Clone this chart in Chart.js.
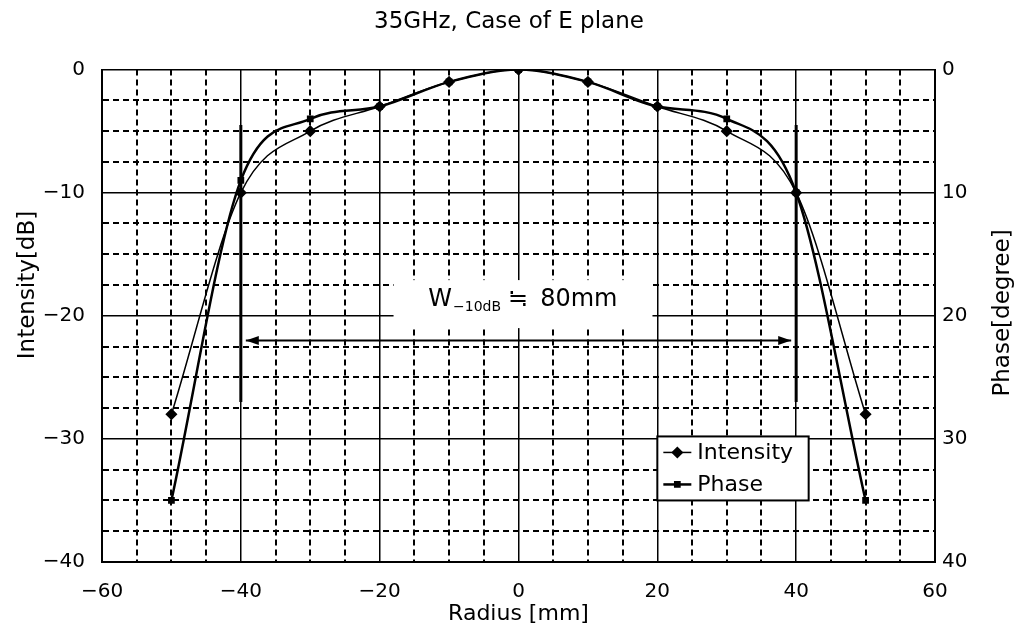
<!DOCTYPE html>
<html>
<head>
<meta charset="utf-8">
<script src="https://cdn.jsdelivr.net/npm/chart.js@4.4.1/dist/chart.umd.min.js"></script>
<style>
  html, body { margin: 0; padding: 0; background: #fff; }
</style>
</head>
<body>
<canvas id="myChart" width="1018" height="632"></canvas>
<script>
const radius = [-50, -40, -30, -20, -10, 0, 10, 20, 30, 40, 50];
const intensity = [-28, -10, -5, -3, -1, 0, -1, -3, -5, -10, -28];
const phase = [35, 9, 4, 3, 1, 0, 1, 3, 4, 10, 35];

const xTickLabels = [-60, -40, -20, 0, 20, 40, 60];
const yLeftTickLabels = [0, -10, -20, -30, -40];
const yRightTickLabels = [0, 10, 20, 30, 40];

// -10 dB width annotation
const widthEdges = [-40, 40];
const markerRange = [-4.5, -27];
const arrowLevel = -22;

const FONT = "'DejaVu Sans', sans-serif";
const minus = (v) => String(v).replace("-", "\u2212");

const isMajor = (ctx, step) => ctx.tick && Math.abs(ctx.tick.value % step) < 1e-9;

const overlay = {
  id: "overlay",
  beforeDatasetsDraw(chart) {
    const { ctx, scales } = chart;
    const x = scales.x, y = scales.y;
    ctx.save();

    // white box behind the width label
    const bx0 = x.getPixelForValue(-18), bx1 = x.getPixelForValue(19.3);
    const by0 = y.getPixelForValue(-17.1), by1 = y.getPixelForValue(-21);
    ctx.fillStyle = "#fff";
    ctx.fillRect(bx0, by0, bx1 - bx0, by1 - by0);

    // vertical markers at the -10dB points
    ctx.strokeStyle = "#000";
    ctx.fillStyle = "#000";
    ctx.lineWidth = 3;
    widthEdges.forEach((v) => {
      const px = x.getPixelForValue(v);
      ctx.beginPath();
      ctx.moveTo(px, y.getPixelForValue(markerRange[0]));
      ctx.lineTo(px, y.getPixelForValue(markerRange[1]));
      ctx.stroke();
    });

    // double arrow
    const ay = y.getPixelForValue(arrowLevel);
    const ax0 = x.getPixelForValue(widthEdges[0]) + 5;
    const ax1 = x.getPixelForValue(widthEdges[1]) - 5;
    ctx.lineWidth = 2;
    ctx.beginPath();
    ctx.moveTo(ax0, ay);
    ctx.lineTo(ax1, ay);
    ctx.stroke();
    ctx.beginPath();
    ctx.moveTo(ax0, ay);
    ctx.lineTo(ax0 + 13, ay - 4.5);
    ctx.lineTo(ax0 + 13, ay + 4.5);
    ctx.closePath();
    ctx.fill();
    ctx.beginPath();
    ctx.moveTo(ax1, ay);
    ctx.lineTo(ax1 - 13, ay - 4.5);
    ctx.lineTo(ax1 - 13, ay + 4.5);
    ctx.closePath();
    ctx.fill();

    // label  W-10dB ≒ 80mm
    let tx = x.getPixelForValue(-13.0);
    const ty = y.getPixelForValue(-19.2);
    ctx.textBaseline = "alphabetic";
    ctx.textAlign = "left";
    ctx.font = "24px " + FONT;
    ctx.fillText("W", tx, ty);
    tx += ctx.measureText("W").width + 1;
    ctx.font = "14px " + FONT;
    ctx.fillText("\u221210dB", tx, ty + 5);
    tx += ctx.measureText("\u221210dB").width + 7;
    ctx.font = "24px " + FONT;
    ctx.fillText("\u2252", tx, ty);
    tx += ctx.measureText("\u2252").width + 12;
    ctx.fillText("80mm", tx, ty);

    ctx.restore();
  },
  afterDraw(chart) {
    const { ctx, scales } = chart;
    const x = scales.x, y = scales.y;
    ctx.save();

    // legend box inside the plot
    const lx0 = x.getPixelForValue(20), lx1 = x.getPixelForValue(41.8);
    const ly0 = y.getPixelForValue(-29.8), ly1 = y.getPixelForValue(-35);
    ctx.fillStyle = "#fff";
    ctx.fillRect(lx0, ly0, lx1 - lx0, ly1 - ly0);
    ctx.strokeStyle = "#000";
    ctx.lineWidth = 2;
    ctx.strokeRect(lx0, ly0, lx1 - lx0, ly1 - ly0);

    const rowH = (ly1 - ly0) / 2;
    chart.data.datasets.forEach((ds, i) => {
      const cy = ly0 + rowH * (i + 0.5);
      ctx.strokeStyle = "#000";
      ctx.fillStyle = "#000";
      ctx.lineWidth = ds.borderWidth;
      ctx.beginPath();
      ctx.moveTo(lx0 + 6, cy);
      ctx.lineTo(lx0 + 34, cy);
      ctx.stroke();
      Chart.helpers.drawPoint(ctx, { pointStyle: ds.pointStyle, radius: ds.pointRadius, borderWidth: 1, rotation: 0 }, lx0 + 20, cy);
      ctx.font = "22px " + FONT;
      ctx.textBaseline = "middle";
      ctx.textAlign = "left";
      ctx.fillText(ds.label, lx0 + 40, cy + 1);
    });

    // axis titles, both reading bottom to top
    ctx.fillStyle = "#000";
    ctx.font = "23px " + FONT;
    ctx.textAlign = "center";
    ctx.textBaseline = "middle";
    ctx.translate(28, 285);
    ctx.rotate(-Math.PI / 2);
    ctx.fillText("Intensity[dB]", 0, 0);
    ctx.setTransform(1, 0, 0, 1, 0, 0);
    ctx.translate(1003, 313);
    ctx.rotate(-Math.PI / 2);
    ctx.fillText("Phase[degree]", 0, 0);

    ctx.restore();
  },
};

const ctx = document.getElementById("myChart").getContext("2d");

new Chart(ctx, {
  type: "line",
  data: {
    datasets: [
      {
        label: "Intensity",
        data: radius.map((r, i) => ({ x: r, y: intensity[i] })),
        yAxisID: "y",
        borderColor: "#000",
        backgroundColor: "#000",
        borderWidth: 1.5,
        pointStyle: "rectRot",
        pointRadius: 5,
        cubicInterpolationMode: "monotone",
      },
      {
        label: "Phase",
        data: radius.map((r, i) => ({ x: r, y: phase[i] })),
        yAxisID: "y1",
        borderColor: "#000",
        backgroundColor: "#000",
        borderWidth: 2.5,
        pointStyle: "rect",
        pointRadius: 3,
        cubicInterpolationMode: "monotone",
      },
    ],
  },
  options: {
    responsive: false,
    animation: false,
    layout: { padding: 0 },
    scales: {
      x: {
        type: "linear",
        min: -60,
        max: 60,
        afterFit: (s) => { s.height = 70; },
        ticks: {
          stepSize: 5,
          autoSkip: false,
          maxRotation: 0,
          padding: 18,
          color: "#000",
          font: { family: FONT, size: 20 },
          callback: (v) => (xTickLabels.includes(v) ? minus(v) : ""),
        },
        grid: {
          color: "#000",
          drawTicks: false,
          lineWidth: (c) => (isMajor(c, 20) ? 1.5 : 2),
        },
        border: {
          color: "#000",
          width: 2,
          dash: (c) => (c.tick && !isMajor(c, 20) ? [6, 4] : []),
        },
        title: {
          display: true,
          text: "Radius [mm]",
          color: "#000",
          font: { family: FONT, size: 22 },
          padding: { top: 0, bottom: 5 },
        },
      },
      y: {
        position: "left",
        min: -40,
        max: 0,
        afterFit: (s) => { s.width = 102; },
        ticks: {
          stepSize: 2.5,
          autoSkip: false,
          padding: 17,
          color: "#000",
          font: { family: FONT, size: 20 },
          callback: (v) => (yLeftTickLabels.includes(v) ? minus(v) : ""),
        },
        grid: {
          color: "#000",
          drawTicks: false,
          lineWidth: (c) => (isMajor(c, 10) ? 1.5 : 2),
        },
        border: {
          color: "#000",
          width: 2,
          dash: (c) => (c.tick && !isMajor(c, 10) ? [6, 4] : []),
        },
      },
      y1: {
        position: "right",
        min: 0,
        max: 40,
        reverse: true,
        afterFit: (s) => { s.width = 83; },
        ticks: {
          stepSize: 10,
          padding: 7,
          color: "#000",
          font: { family: FONT, size: 20 },
          callback: (v) => (yRightTickLabels.includes(v) ? v : ""),
        },
        grid: { drawOnChartArea: false, drawTicks: false },
        border: { color: "#000", width: 2 },
      },
    },
    plugins: {
      legend: { display: false },
      tooltip: { enabled: false },
      title: {
        display: true,
        text: "35GHz, Case of E plane",
        color: "#000",
        font: { family: FONT, size: 23, weight: "normal" },
        padding: { top: 8, bottom: 34 },
      },
    },
  },
  plugins: [overlay],
});
</script>
</body>
</html>
